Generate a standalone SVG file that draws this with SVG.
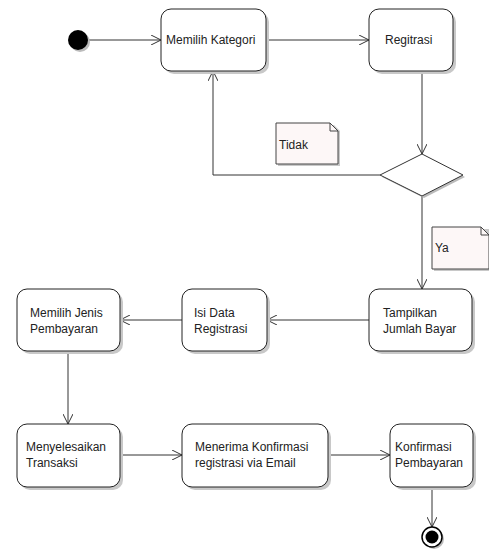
<svg xmlns="http://www.w3.org/2000/svg" width="489" height="549" viewBox="0 0 489 549">
<style>
.box{fill:#ffffff;stroke:#222;stroke-width:1}
.sh{fill:#c8c8c8}
.t{font-family:"Liberation Sans",Arial,sans-serif;font-size:12px;fill:#222}
.ln{fill:none;stroke:#333;stroke-width:1}
.note{fill:#fdf7f7;stroke:#444;stroke-width:1}
</style>
<defs>
<marker id="arr" viewBox="0 0 10 10" refX="10" refY="5" markerWidth="10" markerHeight="10" markerUnits="userSpaceOnUse" orient="auto">
<path d="M0,0 L10,5 L0,10" fill="none" stroke="#333" stroke-width="1"/>
</marker>
</defs>
<rect width="489" height="549" fill="#ffffff"/>
<g id="connectors">
<line class="ln" x1="88" y1="40" x2="161" y2="40" marker-end="url(#arr)"/>
<line class="ln" x1="266" y1="40" x2="369" y2="40" marker-end="url(#arr)"/>
<line class="ln" x1="422" y1="71" x2="422" y2="154" marker-end="url(#arr)"/>
<polyline class="ln" points="380,175 213,175 213,71" marker-end="url(#arr)"/>
<line class="ln" x1="422" y1="196" x2="422" y2="289" marker-end="url(#arr)"/>
<line class="ln" x1="369" y1="320" x2="267" y2="320" marker-end="url(#arr)"/>
<line class="ln" x1="182" y1="320" x2="120" y2="320" marker-end="url(#arr)"/>
<line class="ln" x1="68" y1="351" x2="68" y2="424" marker-end="url(#arr)"/>
<line class="ln" x1="120" y1="455" x2="182" y2="455" marker-end="url(#arr)"/>
<line class="ln" x1="328" y1="455" x2="390" y2="455" marker-end="url(#arr)"/>
<line class="ln" x1="432" y1="487" x2="432" y2="527" marker-end="url(#arr)"/>
</g>
<g id="start">
<circle cx="80" cy="42" r="10" fill="#bbb"/>
<circle cx="78" cy="40" r="10" fill="#000"/>
</g>
<g id="memilih-kategori">
<rect class="sh" x="164" y="12" width="105" height="62" rx="10"/>
<rect class="box" x="161" y="9" width="105" height="62" rx="10"/>
<text class="t" x="166" y="44">Memilih Kategori</text>
</g>
<g id="regitrasi">
<rect class="sh" x="372" y="12" width="84" height="62" rx="10"/>
<rect class="box" x="369" y="9" width="84" height="62" rx="10"/>
<text class="t" x="385" y="44">Regitrasi</text>
</g>
<g id="decision">
<polygon points="424,156 465,177 424,198 382,177" fill="#bbb"/>
<polygon points="422,154 463,175 422,196 380,175" fill="#fff" stroke="#333"/>
</g>
<g id="note-tidak">
<polygon points="278,125 334,125 340,131 340,166 278,166" fill="#c8c8c8"/>
<polygon class="note" points="276,123 330,123 338,131 338,164 276,164"/>
<polyline points="330,123 330,131 338,131" fill="none" stroke="#444"/>
<text class="t" x="279" y="149">Tidak</text>
</g>
<g id="note-ya">
<polygon points="434,229 489,229 489,271 434,271" fill="#c8c8c8"/>
<polygon class="note" points="432,227 481,227 489,235 489,269 432,269"/>
<polyline points="481,227 481,235 489,235" fill="none" stroke="#444"/>
<text class="t" x="435" y="252">Ya</text>
</g>
<g id="tampilkan">
<rect class="sh" x="372" y="292" width="103" height="62" rx="10"/>
<rect class="box" x="369" y="289" width="103" height="62" rx="10"/>
<text class="t" x="383" y="317">Tampilkan</text>
<text class="t" x="383" y="333">Jumlah Bayar</text>
</g>
<g id="isi-data">
<rect class="sh" x="185" y="292" width="85" height="62" rx="10"/>
<rect class="box" x="182" y="289" width="85" height="62" rx="10"/>
<text class="t" x="194" y="317">Isi Data</text>
<text class="t" x="194" y="333">Registrasi</text>
</g>
<g id="memilih-jenis">
<rect class="sh" x="20" y="292" width="103" height="62" rx="10"/>
<rect class="box" x="17" y="289" width="103" height="62" rx="10"/>
<text class="t" x="30" y="317">Memilih Jenis</text>
<text class="t" x="30" y="333">Pembayaran</text>
</g>
<g id="menyelesaikan">
<rect class="sh" x="20" y="427" width="103" height="63" rx="10"/>
<rect class="box" x="17" y="424" width="103" height="63" rx="10"/>
<text class="t" x="26" y="451">Menyelesaikan</text>
<text class="t" x="26" y="467">Transaksi</text>
</g>
<g id="menerima">
<rect class="sh" x="185" y="427" width="146" height="63" rx="10"/>
<rect class="box" x="182" y="424" width="146" height="63" rx="10"/>
<text class="t" x="195" y="451">Menerima Konfirmasi</text>
<text class="t" x="195" y="467">registrasi via Email</text>
</g>
<g id="konfirmasi">
<rect class="sh" x="393" y="427" width="83" height="63" rx="10"/>
<rect class="box" x="390" y="424" width="83" height="63" rx="10"/>
<text class="t" x="395" y="451">Konfirmasi</text>
<text class="t" x="395" y="467">Pembayaran</text>
</g>
<g id="end">
<circle cx="434" cy="539" r="10" fill="#bbb"/>
<circle cx="432" cy="537" r="10" fill="#fff" stroke="#000" stroke-width="1.5"/>
<circle cx="432" cy="537" r="6.5" fill="#000"/>
</g>
</svg>
